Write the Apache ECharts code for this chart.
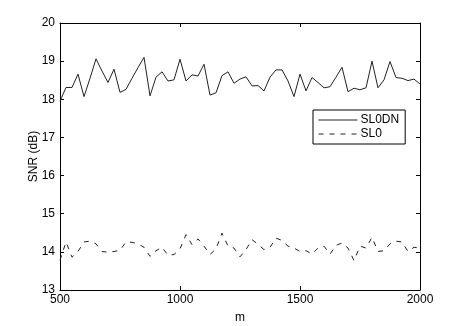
<!DOCTYPE html>
<html><head><meta charset="utf-8">
<script src="https://cdn.jsdelivr.net/npm/echarts@6/dist/echarts.min.js"></script>
<style>html,body{margin:0;padding:0;background:#fff}#c{width:463px;height:326px}</style>
</head><body><div id="c"></div>
<script>
var mValues = [500,525,550,575,600,625,650,675,700,725,750,775,800,825,850,875,900,925,950,975,1000,1025,1050,1075,1100,1125,1150,1175,1200,1225,1250,1275,1300,1325,1350,1375,1400,1425,1450,1475,1500,1525,1550,1575,1600,1625,1650,1675,1700,1725,1750,1775,1800,1825,1850,1875,1900,1925,1950,1975,2000];
var sl0dn = [17.95,18.31,18.31,18.66,18.07,18.55,19.06,18.74,18.44,18.79,18.18,18.26,18.55,18.83,19.10,18.09,18.58,18.72,18.48,18.51,19.05,18.48,18.64,18.61,18.92,18.11,18.17,18.62,18.72,18.42,18.53,18.59,18.35,18.36,18.22,18.58,18.77,18.77,18.48,18.07,18.66,18.22,18.57,18.44,18.30,18.33,18.58,18.84,18.20,18.29,18.25,18.30,19.00,18.30,18.51,18.99,18.57,18.55,18.49,18.53,18.40];
var sl0 = [13.78,14.26,13.86,14.01,14.26,14.28,14.21,14.01,13.99,14.01,14.04,14.26,14.25,14.21,14.12,13.88,14.03,14.12,13.91,13.93,14.08,14.45,14.19,14.34,14.15,13.93,14.08,14.49,14.15,14.10,13.87,14.06,14.32,14.20,14.06,14.12,14.36,14.30,14.15,14.10,14.01,14.03,13.94,14.10,14.15,13.94,14.17,14.23,14.10,13.77,14.15,14.10,14.38,14.01,14.03,14.21,14.28,14.26,14.01,14.12,14.10];
var seriesNames = ['SL0DN','SL0'];
var xTicks = {min:500,max:2000,interval:500};
var yTicks = {min:13,max:20,interval:1};

function pairs(xs, ys){ return xs.map(function(x,i){return [x, ys[i]];}); }
var font = 'Liberation Sans, Arial, sans-serif';
var axisCommon = {
  axisLine:{show:true,lineStyle:{color:'#000',width:1}},
  axisTick:{show:true,inside:true,length:4,lineStyle:{color:'#000'}},
  splitLine:{show:false},
  nameMoveOverlap:false,
  axisLabel:{color:'#000',fontSize:12,fontFamily:font}
};
function ax(extra){ return Object.assign({}, JSON.parse(JSON.stringify(axisCommon)), extra); }
var plain = function(v){ return String(v); };
var chart = echarts.init(document.getElementById('c'), null, {renderer:'canvas'});
chart.setOption({
  animation:false,
  backgroundColor:'#fff',
  grid:{left:60,right:43,top:23,bottom:36,containLabel:false,outerBoundsMode:'none'},
  legend:{
    orient:'vertical', left:313, top:110, data:seriesNames,
    itemWidth:39, itemHeight:12, itemGap:2, padding:[4,6,4,5],
    borderColor:'#000', borderWidth:1, backgroundColor:'#fff',
    itemStyle:{opacity:0},
    lineStyle:{width:1},
    textStyle:{color:'#000',fontSize:12,fontFamily:font,padding:[0,0,0,-2]}
  },
  xAxis:[
    ax({type:'value',position:'bottom',min:xTicks.min,max:xTicks.max,interval:xTicks.interval,name:'m',nameLocation:'middle',nameGap:22,nameTextStyle:{color:'#000',fontSize:12,fontFamily:font},axisLabel:{color:'#000',fontSize:12,fontFamily:font,margin:4,formatter:plain}}),
    ax({type:'value',position:'top',min:xTicks.min,max:xTicks.max,interval:xTicks.interval,axisLabel:{show:false}})
  ],
  yAxis:[
    ax({type:'value',position:'left',min:yTicks.min,max:yTicks.max,interval:yTicks.interval,name:'SNR (dB)',nameLocation:'middle',nameGap:20,nameTextStyle:{color:'#000',fontSize:12,fontFamily:font},axisLabel:{color:'#000',fontSize:12,fontFamily:font,margin:5,formatter:plain}}),
    ax({type:'value',position:'right',min:yTicks.min,max:yTicks.max,interval:yTicks.interval,axisLabel:{show:false}})
  ],
  series:[
    {name:seriesNames[0],type:'line',data:pairs(mValues,sl0dn),symbol:'none',lineStyle:{color:'#222',width:1,type:'solid'},itemStyle:{color:'#222'}},
    {name:seriesNames[1],type:'line',data:pairs(mValues,sl0),symbol:'none',lineStyle:{color:'#222',width:1,type:[5,6]},itemStyle:{color:'#222'}}
  ]
});
</script></body></html>
